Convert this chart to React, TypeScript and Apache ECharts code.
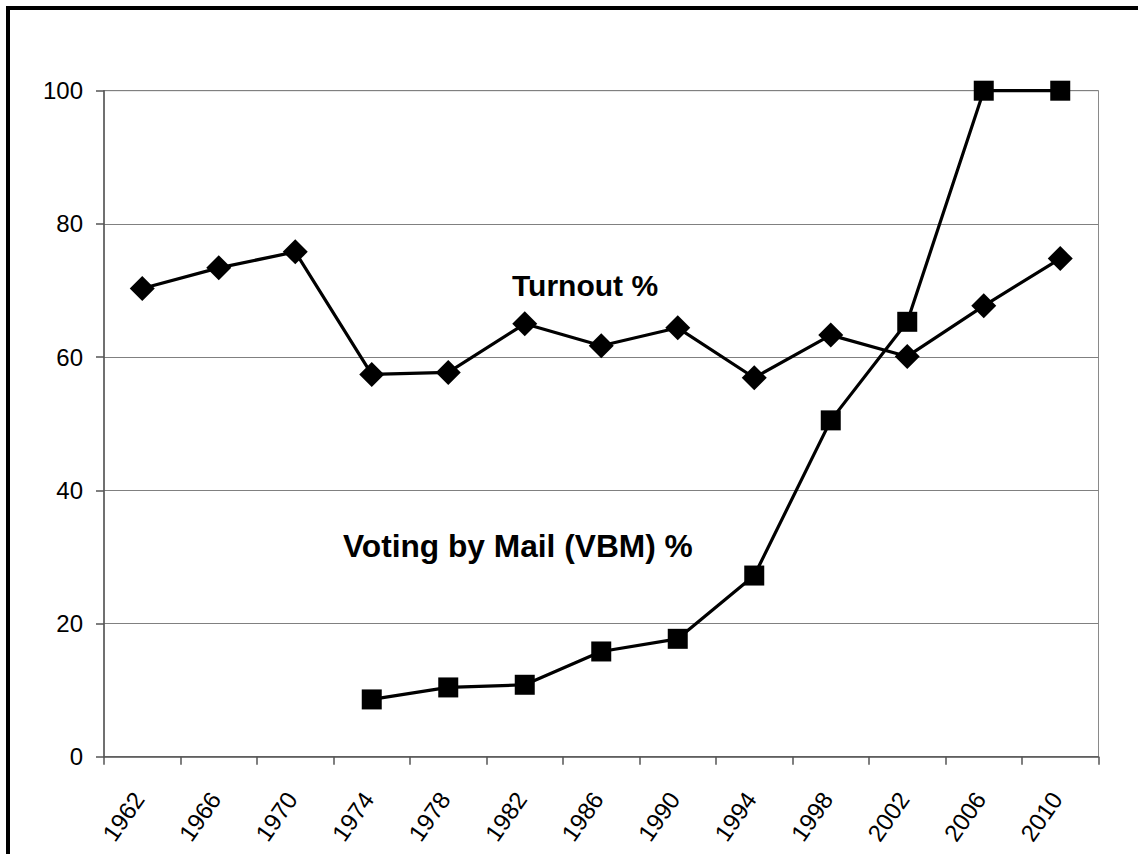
import React, { useEffect, useRef } from "react";
import * as echarts from "echarts";

const years = ["1962", "1966", "1970", "1974", "1978", "1982", "1986", "1990", "1994", "1998", "2002", "2006", "2010"];
const turnout = [70.3, 73.4, 75.8, 57.4, 57.7, 65.0, 61.7, 64.4, 56.9, 63.3, 60.1, 67.7, 74.8];
const vbm: (number | null)[] = [null, null, null, 8.6, 10.4, 10.8, 15.8, 17.7, 27.2, 50.5, 65.3, 100, 100];
const yTicks = { min: 0, max: 100, interval: 20 };
const annotations = [
  { text: "Turnout %", x: 512, y: 285.5, size: 30 },
  { text: "Voting by Mail (VBM) %", x: 343, y: 546, size: 31.7 },
];

export default function App() {
  const ref = useRef<HTMLDivElement>(null);
  useEffect(() => {
    if (!ref.current) return;
    const chart = echarts.init(ref.current, undefined, { renderer: "svg" });
    const font = "Arial, 'Liberation Sans', Helvetica, sans-serif";
    chart.setOption({
      animation: false,
      backgroundColor: "#ffffff",
      grid: {
        left: 104,
        right: 39.5,
        top: 90.7,
        bottom: 97.3,
        show: true,
        borderColor: "#8a8a8a",
        borderWidth: 1,
        containLabel: false,
      },
      xAxis: {
        type: "category",
        data: years,
        boundaryGap: true,
        axisLine: { lineStyle: { color: "#555", width: 1.5 } },
        axisTick: { show: true, length: 8, inside: false, alignWithLabel: false, lineStyle: { color: "#555", width: 1.5 } },
        axisLabel: {
          rotate: 55,
          margin: 33,
          color: "#000",
          fontFamily: font,
          fontSize: 24,
          interval: 0,
          padding: [0, 6, 0, 0],
        },
        splitLine: { show: false },
      },
      yAxis: {
        type: "value",
        min: yTicks.min,
        max: yTicks.max,
        interval: yTicks.interval,
        axisLine: { show: true, lineStyle: { color: "#555", width: 1.5 } },
        axisTick: { show: true, length: 8, inside: false, lineStyle: { color: "#555", width: 1.5 } },
        axisLabel: { color: "#000", fontFamily: font, fontSize: 24, margin: 21 },
        splitLine: { show: true, lineStyle: { color: "#808080", width: 1 } },
      },
      series: [
        {
          name: "Turnout %",
          type: "line",
          data: turnout,
          symbol: "diamond",
          symbolSize: 25,
          lineStyle: { color: "#000", width: 3.2 },
          itemStyle: { color: "#000" },
          z: 3,
        },
        {
          name: "Voting by Mail (VBM) %",
          type: "line",
          data: vbm,
          connectNulls: false,
          symbol: "rect",
          symbolSize: 20,
          lineStyle: { color: "#000", width: 3.2 },
          itemStyle: { color: "#000" },
          z: 4,
        },
      ],
      graphic: [
        {
          type: "rect",
          shape: { x: 8, y: 8, width: 1300, height: 1000 },
          style: { fill: "none", stroke: "#000", lineWidth: 4 },
          silent: true,
          z: 100,
        },
        ...annotations.map((a) => ({
          type: "text",
          x: a.x,
          y: a.y,
          style: {
            text: a.text,
            fill: "#000",
            font: `bold ${a.size}px ${font}`,
            textAlign: "left",
            textVerticalAlign: "middle",
            verticalAlign: "middle",
          },
          z: 50,
        })),
      ],
    });
    return () => chart.dispose();
  }, []);
  return <div ref={ref} style={{ position: "fixed", left: 0, top: 0, width: 1138, height: 854 }} />;
}
